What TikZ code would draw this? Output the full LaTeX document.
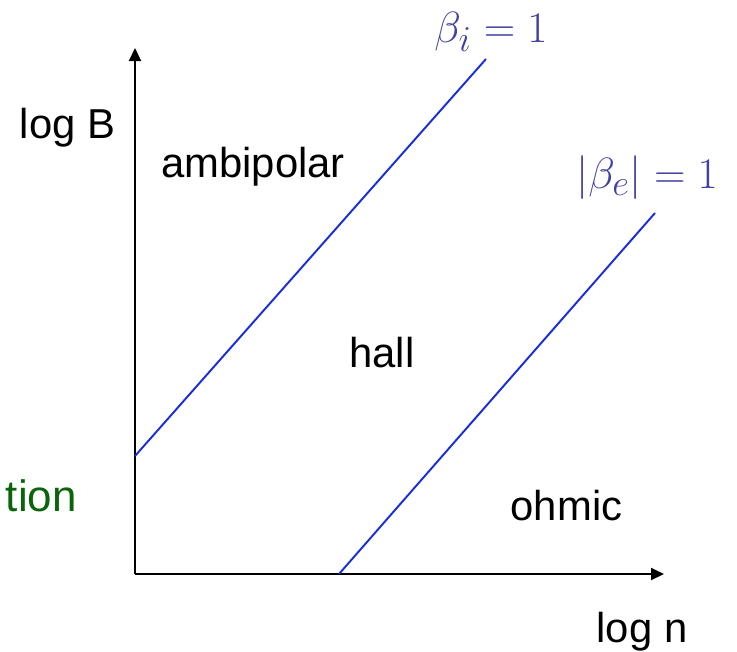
\documentclass[tikz,border=0pt]{standalone}
\usepackage{fontspec}
\setmainfont{Liberation Sans}
\usepackage{tikz}
\usetikzlibrary{arrows.meta,positioning,calc}
\definecolor{linecolor}{RGB}{25,45,220}
\definecolor{mathcolor}{RGB}{65,65,160}
\definecolor{regiongreen}{RGB}{10,100,10}

\begin{document}
\begin{tikzpicture}[
  axis/.style={-{Triangle[length=2.6mm,width=2.4mm]},line width=1.1pt,black},
  boundary/.style={line width=1.1pt,draw=linecolor},
  region/.style={font=\fontsize{23.8}{28}\selectfont,inner sep=0pt},
  eqlabel/.style={font=\fontsize{28}{33}\selectfont,text=mathcolor,inner sep=0pt}
]
  \useasboundingbox (0,0) rectangle (14.74,-13.04);

  % axes
  \coordinate (origin) at (2.7,-11.48);
  \coordinate (ytip) at (2.7,-0.96);
  \coordinate (xtip) at (13.28,-11.48);
  \draw[axis] (origin) -- (ytip);
  \draw[axis] (origin) -- (xtip);

  % beta_i = 1 and |beta_e| = 1
  \coordinate (ion0) at (2.7,-9.12);
  \coordinate (ion1) at (9.72,-1.18);
  \coordinate (ele0) at (6.78,-11.48);
  \coordinate (ele1) at (13.1,-4.26);
  \draw[boundary] (ion0) -- (ion1);
  \draw[boundary] (ele0) -- (ele1);

  \node[eqlabel] (betai) at (9.82,-0.64) {$\beta_i = 1$};
  \node[eqlabel] (betae) at (12.94,-3.56) {$|\beta_e| = 1$};

  % axis labels and regions
  \node[region] (logB) at (1.35,-2.56) {log B};
  \node[region] (logn) at (12.84,-12.64) {log n};
  \node[region] (ambi) at (5.06,-3.34) {ambipolar};
  \node[region] (hall) at (7.64,-7.06) {hall};
  \node[region] (ohmic) at (11.33,-10.12) {ohmic};
  \node[region,font=\fontsize{25}{30}\selectfont,text=regiongreen,anchor=east] (cut) at (1.54,-9.92) {tion};
\end{tikzpicture}
\end{document}
